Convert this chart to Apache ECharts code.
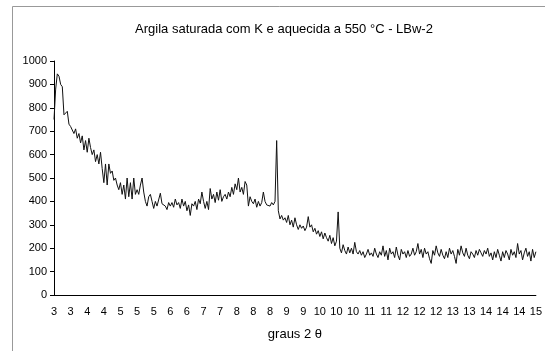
<!DOCTYPE html>
<html>
<head>
<meta charset="utf-8">
<script src="https://cdn.jsdelivr.net/npm/echarts@6/dist/echarts.min.js"></script>
<style>
  html, body { margin: 0; padding: 0; background: #fff; }
  #chart { width: 545px; height: 351px; }
</style>
</head>
<body>
<div id="chart"></div>
<script>
// x tick labels, shown every 10 points (as in the original sheet, rounded)
const xTickLabels = ['3', '3', '4', '4', '5', '5', '5', '6', '6', '7', '7', '8', '8', '8', '9',
  '9', '10', '10', '10', '11', '11', '12', '12', '12', '13', '13', '14', '14', '14', '15']
const labelStep = 10

// intensity, 3 -> 15 graus 2 theta
const intensity = [
  750, 880, 945, 935, 900, 890, 770, 765, 785, 730,
  720, 715, 690, 710, 670, 690, 650, 680, 620, 660,
  610, 670, 630, 600, 620, 570, 600, 560, 610, 540,
  480, 560, 470, 560, 520, 530, 490, 500, 470, 450,
  480, 430, 470, 410, 500, 420, 480, 410, 500, 430,
  450, 430, 470, 500, 440, 400, 380, 420, 430, 400,
  370, 400, 380, 375, 435, 390, 385, 380, 365, 395,
  380, 395, 375, 410, 385, 395, 370, 410, 380, 400,
  360, 385, 340, 390, 380, 400, 365, 410, 390, 440,
  400, 370, 400, 365, 455, 410, 430, 395, 440, 405,
  450, 400, 420, 430, 410, 440, 420, 460, 430, 475,
  450, 500, 440, 460, 430, 485, 470, 380, 420, 400,
  390, 410, 375, 400, 380, 395, 440, 400, 385, 390,
  380, 395, 385, 400, 660, 360, 325, 340, 320, 330,
  310, 340, 300, 320, 290, 330, 300, 280, 300, 285,
  295, 275, 290, 335, 290, 300, 270, 285, 260, 275,
  250, 270, 240, 265, 245, 230, 255, 220, 245, 210,
  230, 355, 200, 180, 215, 190, 175, 205, 180, 200,
  175, 225, 185, 175, 190, 170, 185, 160, 175, 195,
  170, 180, 165, 200, 175, 160, 185, 170, 210, 165,
  190, 150, 200, 175, 185, 160, 205, 170, 150, 195,
  175, 185, 160, 190, 165, 175, 200, 170, 185, 220,
  175, 195, 160, 200, 175, 185, 155, 135, 190, 170,
  210, 180, 165, 195, 170, 155, 185, 160, 200, 175,
  190, 165, 135, 195, 170, 210, 180, 165, 200, 170,
  155, 185, 175, 160, 190, 170, 195, 180, 165, 190,
  175, 200, 165, 180, 150, 185, 160, 195, 170, 145,
  185, 160, 190, 175, 150, 195, 170, 185, 160, 220,
  175, 190, 150, 180, 200, 165, 185, 145, 195, 160,
  185
]

const yMax = 1000
const yStep = 100

const font = 'Liberation Sans, Arial, sans-serif'
const chart = echarts.init(document.getElementById('chart'))

const option = {
  animation: false,
  backgroundColor: '#fff',
  title: {
    text: 'Argila saturada com K e aquecida a 550 °C - LBw-2',
    left: 279,
    top: 18,
    textAlign: 'center',
    textStyle: {
      fontFamily: font,
      fontSize: 13,
      fontWeight: 'normal',
      color: '#000'
    }
  },
  // outer chart frame (only left/top edges are visible in the crop)
  graphic: [
    {
      type: 'rect',
      left: 10,
      top: 4,
      shape: { width: 600, height: 400 },
      style: { fill: 'none', stroke: '#999', lineWidth: 1 },
      z: -1
    }
  ],
  grid: {
    left: 54,
    right: 9,
    top: 61,
    bottom: 56,
    containLabel: false
  },
  xAxis: {
    type: 'category',
    boundaryGap: false,
    data: intensity.map((v, i) => i),
    name: 'graus 2 θ',
    nameLocation: 'middle',
    nameGap: 33,
    nameTextStyle: { fontFamily: font, fontSize: 13, color: '#000' },
    axisLine: { lineStyle: { color: '#000', width: 1 } },
    axisTick: { show: false },
    axisLabel: {
      interval: function(index) {
        return index % labelStep === 0
      },
      formatter: function(value, index) {
        return xTickLabels[index / labelStep]
      },
      margin: 11,
      fontFamily: font,
      fontSize: 11,
      color: '#000'
    },
    splitLine: { show: false }
  },
  yAxis: {
    type: 'value',
    min: 0,
    max: yMax,
    interval: yStep,
    axisLine: { show: true, lineStyle: { color: '#000', width: 1 } },
    axisTick: { show: true, length: 4, lineStyle: { color: '#000' } },
    axisLabel: {
      margin: 7,
      formatter: function(v) {
        return String(v)
      },
      fontFamily: font,
      fontSize: 11,
      color: '#000'
    },
    splitLine: { show: false }
  },
  series: [
    {
      type: 'line',
      data: intensity,
      symbol: 'none',
      lineStyle: { color: '#111', width: 1 }
    }
  ]
}

chart.setOption(option)
</script>
</body>
</html>
